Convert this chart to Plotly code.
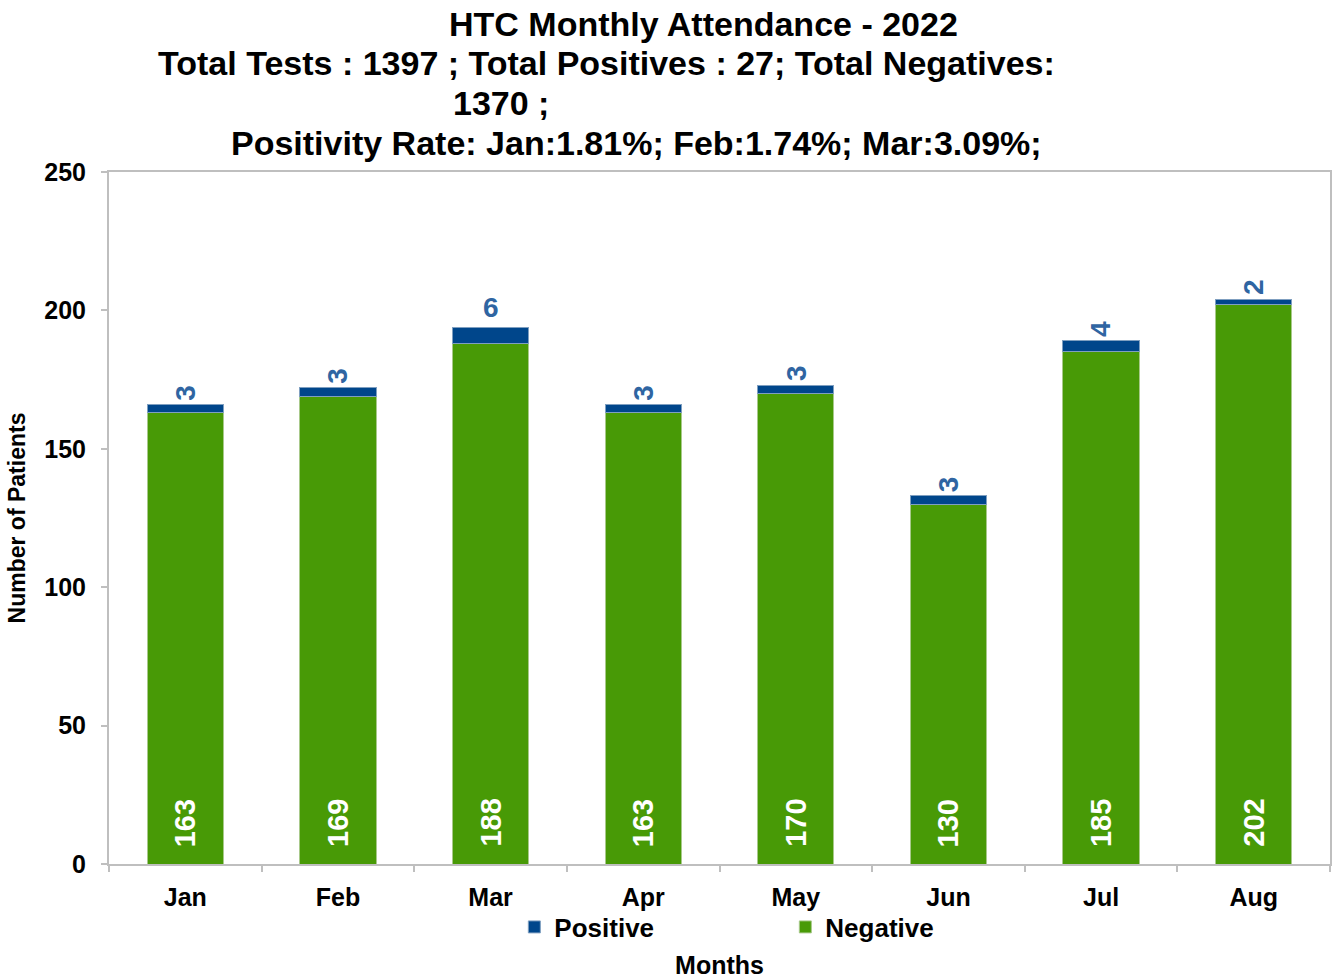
import plotly.graph_objects as go

# Datos
months = ['Jan', 'Feb', 'Mar', 'Apr', 'May', 'Jun', 'Jul', 'Aug']
negatives = [163, 169, 188, 163, 170, 130, 185, 202]
positives = [3, 3, 6, 3, 3, 3, 4, 2]
pos_label_angle = [-90, -90, 0, -90, -90, -90, -90, -90]

title_lines = [
    'HTC Monthly Attendance - 2022',
    'Total Tests : 1397 ; Total Positives : 27; Total Negatives:',
    '1370 ;',
    'Positivity Rate: Jan:1.81%; Feb:1.74%; Mar:3.09%;',
]
title_centers_px = [704, 607, 502, 637]
title_y_px = [24, 63, 103, 143]

W, H = 1333, 979
X0, X1, Y0, Y1 = 109, 1332, 172, 864   # area de trazado
ML, MR, MT, MB = X0, W - X1, Y0, H - Y1
PW, PH = X1 - X0, Y1 - Y0


def px_x(px):
    return (px - X0) / PW


def px_y(py):
    return (Y1 - py) / PH


GREEN = '#489a06'
BLUE = '#00468b'
LABEL_BLUE = '#2f65a2'
AXIS_GRAY = '#bfbfbf'
FONT = 'Liberation Sans, Arial, sans-serif'

fig = go.Figure()

fig.add_trace(go.Bar(
    x=months, y=negatives, name='Negative',
    marker=dict(color=GREEN, line=dict(color='#a8c98a', width=1)),
))
fig.add_trace(go.Bar(
    x=months, y=positives, name='Positive',
    marker=dict(color=BLUE, line=dict(color='#7f9fc0', width=1)),
))

annotations = []
# etiquetas negativos (dentro, en la base)
for m, n in zip(months, negatives):
    annotations.append(dict(
        x=m, y=0, xref='x', yref='y', text=str(n), showarrow=False,
        textangle=-90, yanchor='bottom', xanchor='center', yshift=15,
        font=dict(family=FONT, size=29, color='white', weight='bold'),
    ))
# etiquetas positivos (encima)
for m, n, p, a in zip(months, negatives, positives, pos_label_angle):
    annotations.append(dict(
        x=m, y=n + p, xref='x', yref='y', text=str(p), showarrow=False,
        textangle=a, yanchor='bottom', xanchor='center', yshift=2,
        font=dict(family=FONT, size=28, color=LABEL_BLUE, weight='bold'),
    ))
# titulo
for t, cx, cy in zip(title_lines, title_centers_px, title_y_px):
    annotations.append(dict(
        x=px_x(cx), y=px_y(cy), xref='paper', yref='paper',
        text=t, showarrow=False, xanchor='center', yanchor='middle',
        font=dict(family=FONT, size=34, color='black', weight='bold'),
    ))

fig.update_layout(
    width=W, height=H,
    margin=dict(l=ML, r=MR, t=MT, b=MB),
    barmode='stack', bargap=0.5,
    plot_bgcolor='white', paper_bgcolor='white',
    font=dict(family=FONT, color='black'),
    showlegend=True,
    legend=dict(
        orientation='h', traceorder='reversed',
        x=px_x(515), xanchor='left',
        y=px_y(927), yanchor='middle',
        entrywidth=226, entrywidthmode='pixels',
        bgcolor='rgba(0,0,0,0)',
        font=dict(family=FONT, size=26, weight='bold'),
        itemclick=False,
    ),
    annotations=annotations,
)

fig.update_xaxes(
    showline=True, linecolor=AXIS_GRAY, linewidth=2, mirror=True,
    ticks='outside', tickson='boundaries', ticklen=6, tickcolor=AXIS_GRAY, tickwidth=2,
    tickfont=dict(family=FONT, size=25, weight='bold'),
    ticklabelstandoff=10,
    title=dict(text='Months', font=dict(family=FONT, size=25, weight='bold'), standoff=46),
    showgrid=False,
)
fig.update_yaxes(
    range=[0, 250], dtick=50,
    showline=True, linecolor=AXIS_GRAY, linewidth=2, mirror=True,
    ticks='outside', ticklen=6, tickcolor=AXIS_GRAY, tickwidth=2,
    tickfont=dict(family=FONT, size=25, weight='bold'),
    ticklabelstandoff=10,
    title=dict(text='Number of Patients', font=dict(family=FONT, size=23, weight='bold'), standoff=12),
    showgrid=False, zeroline=False,
)

# quitar el margen del body para que la figura ocupe la ventana exacta
fig.write_html("out.html", config={'displayModeBar': False},
               post_script="document.body.style.margin='0';")
